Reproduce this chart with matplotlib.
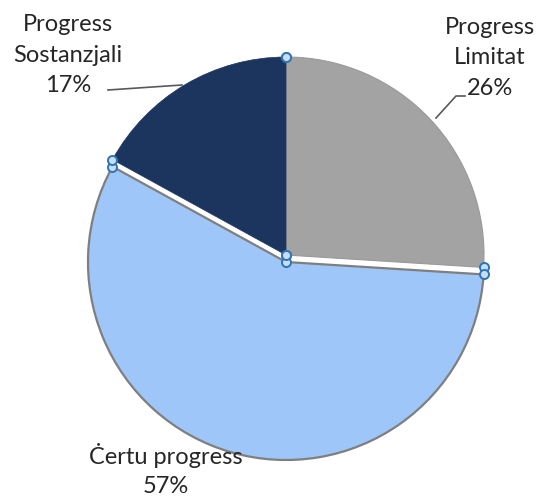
import numpy as np
import matplotlib.pyplot as plt

# %%
# Data
# ------------------------------------------
labels = ["Progress\nLimitat", "Ċertu progress", "Progress\nSostanzjali"]
shares = [26, 57, 17]
colors = ["#A3A3A3", "#9EC6F9", "#1C355E"]

plt.rcParams['font.family'] = ['Lato', 'DejaVu Sans']

# %%
# Figure in pixel coordinates
# ------------------------------------------
fig = plt.figure(figsize=(5.38, 4.96), dpi=100)
ax = fig.add_axes([0, 0, 1, 1])

wedges, _ = ax.pie(shares, colors=colors, startangle=90,
                   counterclock=False, center=(286, 241), radius=198,
                   frame=True)
ax.set_xlim(0, 538)
ax.set_ylim(0, 496)
ax.set_aspect("equal")
ax.axis("off")

# the light blue slice is pulled straight down a few pixels
cx, cy = wedges[1].center
wedges[1].set_center((cx, cy - 7))

wedges[0].set_edgecolor("#999999")
wedges[0].set_linewidth(0.8)
wedges[1].set_edgecolor("#7F7F7F")
wedges[1].set_linewidth(1.6)
wedges[2].set_edgecolor("#1C355E")
wedges[2].set_linewidth(0.5)

# selection handles at the slice corners
for w in wedges:
    cx, cy = w.center
    pts = [(cx, cy)]
    for t in (w.theta1, w.theta2):
        a = np.deg2rad(t)
        pts.append((cx + w.r * np.cos(a), cy + w.r * np.sin(a)))
    for px, py in pts:
        ax.plot(px, py, "o", ms=6.5, mfc="#C9DDF2", mec="#2E75B6",
                mew=1.4, zorder=5)

# %%
# Labels
# ------------------------------------------
tc = "#262626"
fs = 17
ax.text(490, 496 - 58, "Progress\nLimitat\n26%", ha="center", va="center",
        fontsize=fs, color=tc, linespacing=1.55)
ax.text(68, 496 - 55, "Progress\nSostanzjali\n17%", ha="center", va="center",
        fontsize=fs, color=tc, linespacing=1.55)
ax.text(166, 496 - 470, "Ċertu progress\n57%", ha="center", va="center",
        fontsize=fs, color=tc, linespacing=1.45)

# leader lines
ax.plot([465, 456, 436], [496 - 96, 496 - 96, 496 - 118], color="#595959", lw=1.2)
ax.plot([108, 182], [496 - 90, 496 - 85], color="#595959", lw=1.2)

fig.savefig("out.png", dpi=100)
